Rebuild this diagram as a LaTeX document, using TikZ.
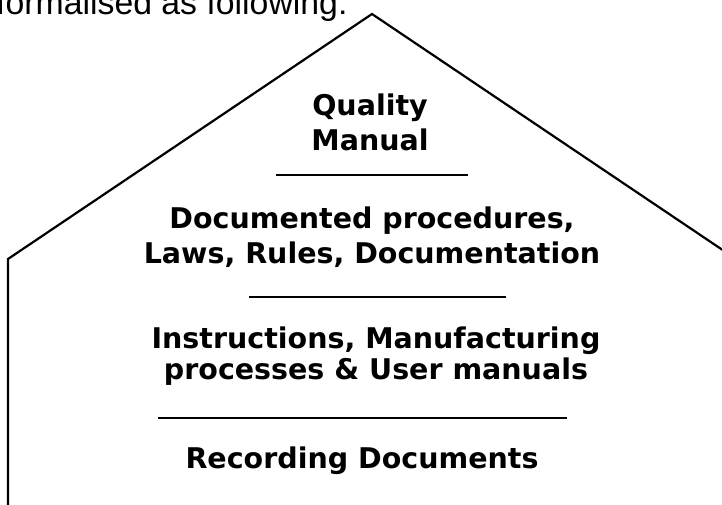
\documentclass[tikz,border=0pt]{standalone}
\usepackage{fontspec}
\setmainfont{Liberation Sans}
\newfontfamily\housefont{DejaVu Sans}
\usetikzlibrary{positioning}
\tikzset{block text/.style={draw=none,align=center,inner sep=0pt,font=\housefont\bfseries\fontsize{28.5}{35}\selectfont,}}
\tikzset{wall/.style={line width=2.2pt,line join=miter,}}
\tikzset{divider/.style={line width=2.6pt,}}

\begin{document}
\begin{tikzpicture}[x=1pt,y=1pt]

\useasboundingbox (0,0) rectangle (722,504);
\clip (0,0) rectangle (722,504);

\node[anchor=base west,inner sep=0pt,font=\fontsize{33.8}{40}\selectfont] (intro) at (-4,489) {formalised as following:};

% outline of the house
\coordinate (apex) at (372,490);
\coordinate (lshoulder) at (8,245);
\coordinate (rshoulder) at (736,245);
\coordinate (lfoot) at (8,-20);
\coordinate (rfoot) at (736,-20);
\draw[wall] (lfoot) -- (lshoulder) -- (apex) -- (rshoulder) -- (rfoot);

\node[block text] (manual) at (370,381.5) {Quality\\Manual};
\node[block text] (procedures) at (372,267) {Documented procedures,\\Laws, Rules, Documentation};
\node[block text,font=\housefont\bfseries\fontsize{28.5}{31}\selectfont] (instructions) at (376,148) {Instructions, Manufacturing\\processes \& User manuals};
\node[block text] (records) at (362,43) {Recording Documents};

\foreach \n/\y/\l/\r in {1/329/276/468,2/207/249/506,3/86/158/567}{
	\coordinate (d\n l) at (\l,\y);
	\coordinate (d\n r) at (\r,\y);
	\draw[divider] (d\n l) -- (d\n r);
}

\end{tikzpicture}
\end{document}
